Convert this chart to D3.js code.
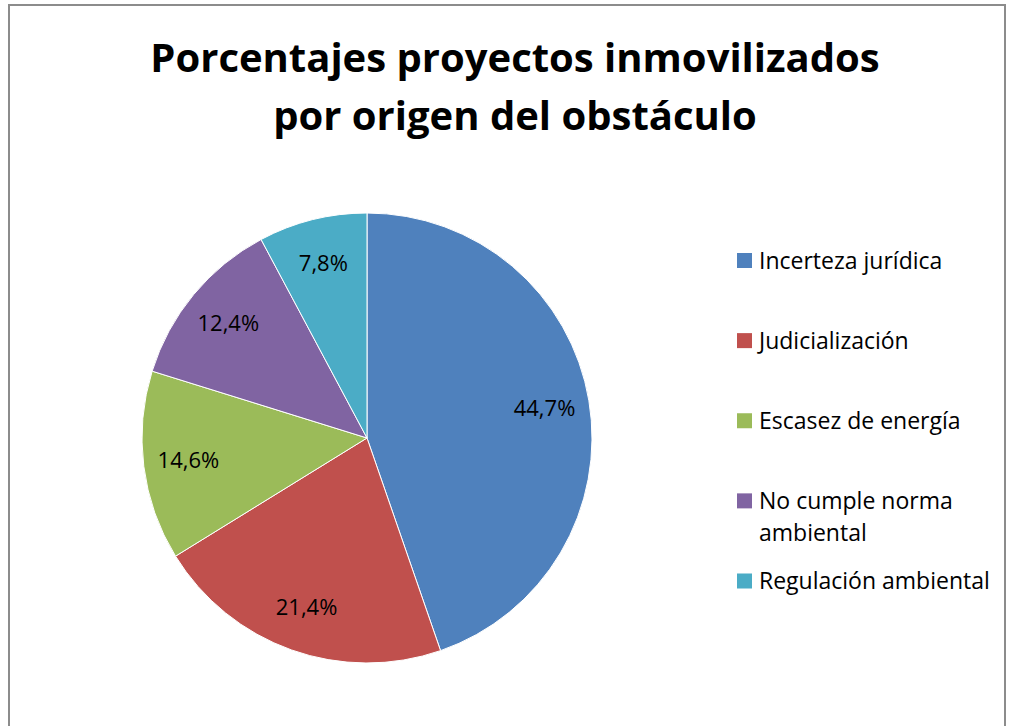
<!DOCTYPE html>
<html>
<head>
<meta charset="utf-8">
<script src="https://cdn.jsdelivr.net/npm/d3@7"></script>
<style>
  body { margin: 0; background: #fff; }
  text { font-family: "Open Sans", sans-serif; fill: #000; }
</style>
</head>
<body>
<div id="chart"></div>
<script>
// data read from the picture (slice sizes measured from the drawn angles,
// labels as printed on the chart)
var categories = ["Incerteza jurídica", "Judicialización", "Escasez de energía", "No cumple norma ambiental", "Regulación ambiental"];
var values = [44.7, 21.5, 13.6, 12.4, 7.8];
var labels = ["44,7%", "21,4%", "14,6%", "12,4%", "7,8%"];
var legendLines = [["Incerteza jurídica"], ["Judicialización"], ["Escasez de energía"], ["No cumple norma", "ambiental"], ["Regulación ambiental"]];
var colors = ["#4f81bd", "#c0504d", "#9bbb59", "#8064a2", "#4bacc6"];

var width = 1012, height = 726;

var svg = d3.select("#chart")
  .append("svg")
  .attr("width", width)
  .attr("height", height);

// chart border
svg.append("rect")
  .attr("x", 9)
  .attr("y", 5)
  .attr("width", 996)
  .attr("height", 740)
  .attr("fill", "#fff")
  .attr("stroke", "#8c8c8c")
  .attr("stroke-width", 2);

// title
var title = svg.append("text")
  .attr("text-anchor", "middle")
  .style("font-weight", "bold")
  .style("font-size", "40px");
title.append("tspan").attr("x", 515).attr("y", 72).text("Porcentajes proyectos inmovilizados");
title.append("tspan").attr("x", 515).attr("y", 130).text("por origen del obstáculo");

var cx = 367, cy = 438, radius = 225;

var pie = d3.pie().sort(null).value(function(d) { return d; });
var arc = d3.arc().innerRadius(0).outerRadius(radius);
var labelArc = d3.arc().innerRadius(radius * 0.8).outerRadius(radius * 0.8);

var g = svg.append("g")
  .attr("transform", "translate(" + cx + "," + cy + ")");

var arcs = pie(values);

g.selectAll("path")
  .data(arcs)
  .enter()
  .append("path")
  .attr("d", arc)
  .attr("fill", function(d, i) { return colors[i]; })
  .attr("stroke", "#fff")
  .attr("stroke-width", 1);

g.selectAll(".lbl")
  .data(arcs)
  .enter()
  .append("text")
  .attr("class", "lbl")
  .attr("transform", function(d) { return "translate(" + labelArc.centroid(d) + ")"; })
  .attr("text-anchor", "middle")
  .attr("dy", "0.35em")
  .style("font-size", "22px")
  .text(function(d, i) { return labels[i]; });

// legend
var legendY = d3.scalePoint()
  .domain(categories)
  .range([260.5, 581]);

var legend = svg.selectAll(".legend")
  .data(categories)
  .enter()
  .append("g")
  .attr("class", "legend")
  .attr("transform", function(d) { return "translate(737," + legendY(d) + ")"; });

legend.append("rect")
  .attr("x", 0)
  .attr("y", -7.5)
  .attr("width", 15)
  .attr("height", 15)
  .attr("fill", function(d, i) { return colors[i]; });

legend.append("text")
  .attr("x", 22)
  .attr("y", 8)
  .style("font-size", "23px")
  .each(function(d, i) {
    var t = d3.select(this);
    legendLines[i].forEach(function(line, j) {
      t.append("tspan").attr("x", 22).attr("dy", j === 0 ? 0 : 32).text(line);
    });
  });
</script>
</body>
</html>
